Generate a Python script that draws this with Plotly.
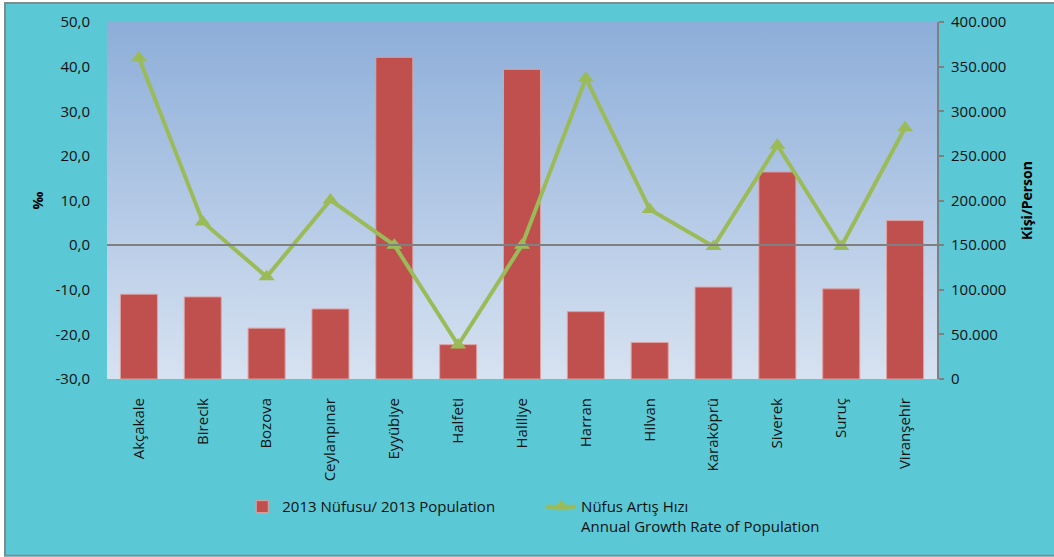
import urllib.parse
import plotly.graph_objects as go

districts = ['Akçakale', 'Birecik', 'Bozova', 'Ceylanpınar', 'Eyyübiye', 'Halfeti', 'Haliliye',
             'Harran', 'Hilvan', 'Karaköprü', 'Siverek', 'Suruç', 'Viranşehir']
population_2013 = [95000, 92000, 57000, 78500, 360500, 38500, 347000,
                   75500, 41000, 103000, 232000, 101000, 177500]
growth_rate = [42.0, 5.2, -7.1, 10.1, 0.0, -22.4, 0.0,
               37.4, 8.0, -0.3, 22.4, -0.3, 26.3]

left_ticks = [-30, -20, -10, 0, 10, 20, 30, 40, 50]
left_ticktext = ['-30,0', '-20,0', '-10,0', '0,0', '10,0', '20,0', '30,0', '40,0', '50,0']
right_ticks = [0, 50000, 100000, 150000, 200000, 250000, 300000, 350000, 400000]
right_ticktext = ['0', '50.000', '100.000', '150.000', '200.000', '250.000', '300.000', '350.000', '400.000']

# vertical gradient for the plot area (svg data uri)
svg = ('<svg xmlns="http://www.w3.org/2000/svg" width="10" height="100" preserveAspectRatio="none">'
       '<defs><linearGradient id="g" x1="0" y1="0" x2="0" y2="1">'
       '<stop offset="0" stop-color="#8DAED9"/><stop offset="1" stop-color="#D7E2F1"/>'
       '</linearGradient></defs><rect width="10" height="100" fill="url(#g)"/></svg>')
bg_uri = 'data:image/svg+xml;charset=utf-8,' + urllib.parse.quote(svg)

fig = go.Figure()

# bars on the right (population) axis, line on the overlaying left axis so it sits on top
fig.add_trace(go.Bar(
    x=districts, y=population_2013, name='2013 Nüfusu/ 2013 Population',
    marker=dict(color='#C0504D', line=dict(color='#DDA3A2', width=1)),
    width=0.58, showlegend=True, legend='legend'))

fig.add_trace(go.Scatter(
    x=districts, y=growth_rate, yaxis='y2', mode='lines+markers',
    name='Nüfus Artış Hızı<br>Annual Growth Rate of Population',
    line=dict(color='#9BBB59', width=4),
    marker=dict(symbol='triangle-up', size=14, color='#9BBB59'),
    showlegend=True, legend='legend2'))

font_axis = dict(family='Open Sans', size=15, color='#111')
font_title = dict(family='Open Sans', size=14, color='#000', weight='bold')
font_legend = dict(family='Open Sans', size=15, color='#111')

fig.update_layout(
    width=1054, height=557,
    margin=dict(l=107, r=117, t=22, b=178),
    paper_bgcolor='#5BC8D6',
    plot_bgcolor='rgba(0,0,0,0)',
    showlegend=True,
    xaxis=dict(range=[-0.5, len(districts) - 0.5], tickangle=-90, tickfont=font_axis,
               ticks='outside', ticklen=12, tickcolor='rgba(0,0,0,0)', showgrid=False, showline=False),
    yaxis=dict(range=[0, 400000], side='right', tickvals=right_ticks,
               ticktext=right_ticktext, tickfont=font_axis, showgrid=False, zeroline=False,
               showline=True, linecolor='#808080', linewidth=2, ticks='outside', ticklen=5,
               tickcolor='#808080', tickwidth=2, ticklabelstandoff=4,
               title=dict(text='Kişi/Person', font=font_title, standoff=17)),
    yaxis2=dict(range=[-30, 50], side='left', overlaying='y', tickvals=left_ticks,
                ticktext=left_ticktext, tickfont=font_axis, showgrid=False,
                zeroline=False, ticks='outside', ticklen=13, tickcolor='rgba(0,0,0,0)',
                title=dict(text='‰', font=font_title, standoff=8)),
    legend=dict(orientation='h', x=0.163, xanchor='left', y=-0.312, yanchor='top',
                font=font_legend, bgcolor='rgba(0,0,0,0)'),
    legend2=dict(orientation='h', x=0.523, xanchor='left', y=-0.312, yanchor='top', valign='top',
                 font=font_legend, bgcolor='rgba(0,0,0,0)'),
    images=[dict(source=bg_uri, xref='paper', yref='paper', x=0, y=1, sizex=1, sizey=1,
                 sizing='stretch', layer='below', xanchor='left', yanchor='top')],
    shapes=[
        dict(type='rect', xref='paper', yref='paper', x0=-0.1229, x1=1.25, y0=-0.495, y1=1.053,
             line=dict(color='#7F8C8D', width=2), fillcolor='rgba(0,0,0,0)', layer='below'),
        dict(type='rect', xref='paper', yref='paper', x0=-0.2, x1=-0.1241, y0=-0.6, y1=1.2,
             line=dict(width=0), fillcolor='white', layer='below'),
        dict(type='rect', xref='paper', yref='paper', x0=-0.2, x1=1.3, y0=1.056, y1=1.2,
             line=dict(width=0), fillcolor='white', layer='below'),
        dict(type='rect', xref='paper', yref='paper', x0=-0.2, x1=1.3, y0=-0.6, y1=-0.498,
             line=dict(width=0), fillcolor='white', layer='below'),
    ],
)

# zero line of the growth axis: above the bars, under the green line when supported
try:
    fig.update_layout(yaxis2=dict(zeroline=True, zerolinecolor='#808080', zerolinewidth=2,
                                  zerolinelayer='above traces'))
except ValueError:
    fig.update_layout(yaxis2=dict(zeroline=True, zerolinecolor='#808080', zerolinewidth=2))

# page body has a default margin; drop it so the chart sits at the window origin
fig.write_html('out.html', config={'displayModeBar': False},
               post_script="document.body.style.margin='0';")
